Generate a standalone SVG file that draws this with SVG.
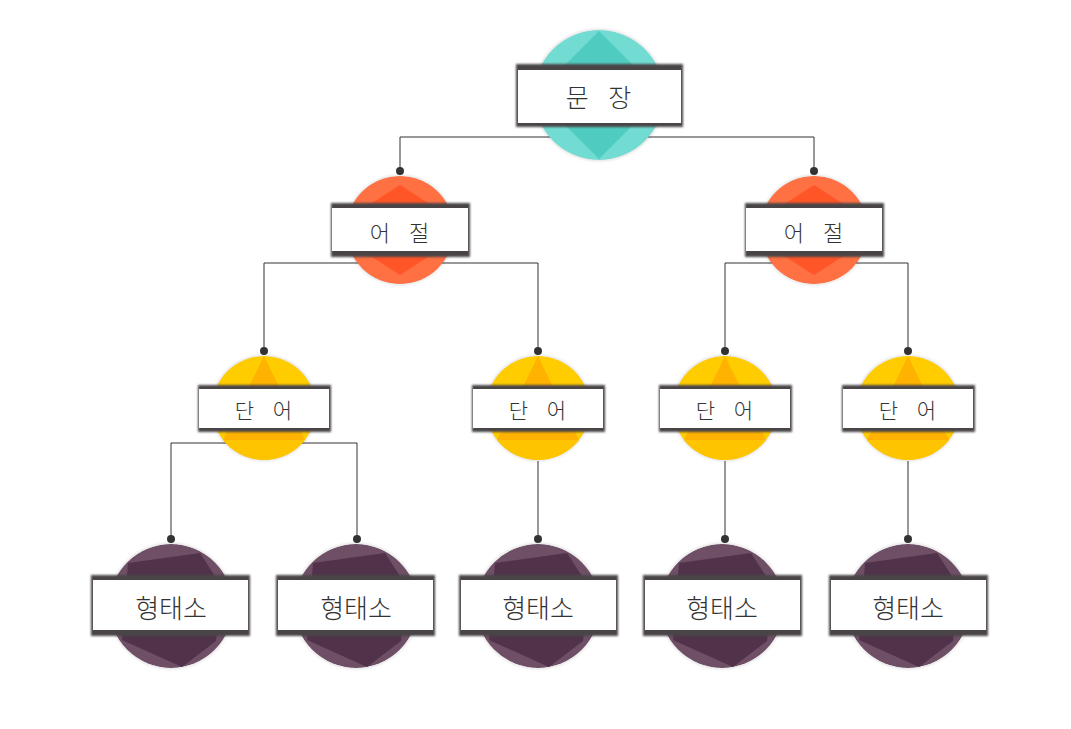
<svg xmlns="http://www.w3.org/2000/svg" width="1071" height="729" viewBox="0 0 1071 729">
<style>
.lbl{font-family:"Noto Sans CJK KR","Noto Sans",sans-serif;font-weight:300;fill:#333;text-anchor:middle;dominant-baseline:central}
.band{fill:#4a4447}
.box{fill:#fff}
.wire{stroke:#333;stroke-width:1;fill:none}
.dot{fill:#333}
</style>
<defs>
<clipPath id="cT" clipPathUnits="userSpaceOnUse"><circle r="65"/></clipPath>
<clipPath id="cO" clipPathUnits="userSpaceOnUse"><circle r="54"/></clipPath>
<clipPath id="cY" clipPathUnits="userSpaceOnUse"><circle r="52"/></clipPath>
<clipPath id="cP" clipPathUnits="userSpaceOnUse"><circle r="62"/></clipPath>
<filter id="sh" x="-20%" y="-20%" width="140%" height="140%"><feGaussianBlur stdDeviation="1.5"/></filter>
<filter id="bs" x="-5%" y="-20%" width="110%" height="140%"><feGaussianBlur stdDeviation="0.8"/></filter>
</defs>
<g id="connectors">
<path class="wire" d="M400 170V137H814V170"/>
<path class="wire" d="M264 351V263H538V351"/>
<path class="wire" d="M725 351V263H908V351"/>
<path class="wire" d="M171 539V443H357V539"/>
<path class="wire" d="M538 461V539M725 461V539M908 461V539"/>
<circle class="dot" cx="400" cy="171" r="4"/><circle class="dot" cx="814" cy="171" r="4"/>
<circle class="dot" cx="264" cy="351" r="4"/><circle class="dot" cx="538" cy="351" r="4"/>
<circle class="dot" cx="725" cy="351" r="4"/><circle class="dot" cx="908" cy="351" r="4"/>
<circle class="dot" cx="171" cy="539" r="4"/><circle class="dot" cx="357" cy="539" r="4"/>
<circle class="dot" cx="538" cy="539" r="4"/><circle class="dot" cx="725" cy="539" r="4"/>
<circle class="dot" cx="908" cy="539" r="4"/>
</g>
<g id="n-sentence" transform="translate(599,95)">
<circle r="66" fill="#000" opacity="0.12" filter="url(#sh)"/>
<g clip-path="url(#cT)">
<circle r="65" fill="#72dcd3"/>
<polygon points="0,-64 64,0 0,64 -64,0" fill="#4fcbbf"/>
</g>
<rect x="-83" y="-31" width="167" height="63" class="band" filter="url(#bs)"/>
<rect x="-81" y="-25" width="163" height="53" class="box"/>
<text class="lbl" x="3" y="1" font-size="25" letter-spacing="7">문 장</text>
</g>
<g id="n-eojeol-1" transform="translate(400,230)">
<circle r="55" fill="#000" opacity="0.12" filter="url(#sh)"/>
<g clip-path="url(#cO)">
<circle r="54" fill="#ff7043"/>
<polygon points="0,-45 70,0 0,45 -70,0" fill="#ff5527"/>
</g>
<rect x="-69" y="-27" width="139" height="54" class="band" filter="url(#bs)"/>
<rect x="-68" y="-22" width="136" height="43" class="box"/>
<text class="lbl" x="3" y="1" font-size="22" letter-spacing="7">어 절</text>
</g>
<g id="n-eojeol-2" transform="translate(814,230)">
<circle r="55" fill="#000" opacity="0.12" filter="url(#sh)"/>
<g clip-path="url(#cO)">
<circle r="54" fill="#ff7043"/>
<polygon points="0,-45 70,0 0,45 -70,0" fill="#ff5527"/>
</g>
<rect x="-69" y="-27" width="139" height="54" class="band" filter="url(#bs)"/>
<rect x="-68" y="-22" width="136" height="43" class="box"/>
<text class="lbl" x="3" y="1" font-size="22" letter-spacing="7">어 절</text>
</g>
<g id="n-word-1" transform="translate(264,408)">
<circle r="53" fill="#000" opacity="0.12" filter="url(#sh)"/>
<g clip-path="url(#cY)">
<circle r="52" fill="#ffcc00"/>
<polygon points="0,-52 41,32 -41,32" fill="#ffb300"/>
<polygon points="-41,32 41,32 52,52 -52,52" fill="#ffc400"/>
</g>
<rect x="-66" y="-23" width="133" height="47" class="band" filter="url(#bs)"/>
<rect x="-65" y="-19" width="130" height="39" class="box"/>
<text class="lbl" x="3" y="1" font-size="21" letter-spacing="7">단 어</text>
</g>
<g id="n-word-2" transform="translate(538,408)">
<circle r="53" fill="#000" opacity="0.12" filter="url(#sh)"/>
<g clip-path="url(#cY)">
<circle r="52" fill="#ffcc00"/>
<polygon points="0,-52 41,32 -41,32" fill="#ffb300"/>
<polygon points="-41,32 41,32 52,52 -52,52" fill="#ffc400"/>
</g>
<rect x="-66" y="-23" width="133" height="47" class="band" filter="url(#bs)"/>
<rect x="-65" y="-19" width="130" height="39" class="box"/>
<text class="lbl" x="3" y="1" font-size="21" letter-spacing="7">단 어</text>
</g>
<g id="n-word-3" transform="translate(725,408)">
<circle r="53" fill="#000" opacity="0.12" filter="url(#sh)"/>
<g clip-path="url(#cY)">
<circle r="52" fill="#ffcc00"/>
<polygon points="0,-52 41,32 -41,32" fill="#ffb300"/>
<polygon points="-41,32 41,32 52,52 -52,52" fill="#ffc400"/>
</g>
<rect x="-66" y="-23" width="133" height="47" class="band" filter="url(#bs)"/>
<rect x="-65" y="-19" width="130" height="39" class="box"/>
<text class="lbl" x="3" y="1" font-size="21" letter-spacing="7">단 어</text>
</g>
<g id="n-word-4" transform="translate(908,408)">
<circle r="53" fill="#000" opacity="0.12" filter="url(#sh)"/>
<g clip-path="url(#cY)">
<circle r="52" fill="#ffcc00"/>
<polygon points="0,-52 41,32 -41,32" fill="#ffb300"/>
<polygon points="-41,32 41,32 52,52 -52,52" fill="#ffc400"/>
</g>
<rect x="-66" y="-23" width="133" height="47" class="band" filter="url(#bs)"/>
<rect x="-65" y="-19" width="130" height="39" class="box"/>
<text class="lbl" x="3" y="1" font-size="21" letter-spacing="7">단 어</text>
</g>
<g id="n-morph-1" transform="translate(171,606)">
<circle r="63" fill="#000" opacity="0.12" filter="url(#sh)"/>
<g clip-path="url(#cP)">
<circle r="62" fill="#6e4f66"/>
<polygon points="-43,-43 29,-53 51,-19 45,35 11,61 -49,34" fill="#50334a"/>
</g>
<rect x="-80" y="-31" width="159" height="61" class="band" filter="url(#bs)"/>
<rect x="-78" y="-26" width="155" height="50" class="box"/>
<text class="lbl" x="0" y="0" font-size="26">형태소</text>
</g>
<g id="n-morph-2" transform="translate(356,606)">
<circle r="63" fill="#000" opacity="0.12" filter="url(#sh)"/>
<g clip-path="url(#cP)">
<circle r="62" fill="#6e4f66"/>
<polygon points="-43,-43 29,-53 51,-19 45,35 11,61 -49,34" fill="#50334a"/>
</g>
<rect x="-80" y="-31" width="159" height="61" class="band" filter="url(#bs)"/>
<rect x="-78" y="-26" width="155" height="50" class="box"/>
<text class="lbl" x="0" y="0" font-size="26">형태소</text>
</g>
<g id="n-morph-3" transform="translate(538,606)">
<circle r="63" fill="#000" opacity="0.12" filter="url(#sh)"/>
<g clip-path="url(#cP)">
<circle r="62" fill="#6e4f66"/>
<polygon points="-43,-43 29,-53 51,-19 45,35 11,61 -49,34" fill="#50334a"/>
</g>
<rect x="-79" y="-31" width="159" height="61" class="band" filter="url(#bs)"/>
<rect x="-77" y="-26" width="155" height="50" class="box"/>
<text class="lbl" x="0" y="0" font-size="26">형태소</text>
</g>
<g id="n-morph-4" transform="translate(722,606)">
<circle r="63" fill="#000" opacity="0.12" filter="url(#sh)"/>
<g clip-path="url(#cP)">
<circle r="62" fill="#6e4f66"/>
<polygon points="-43,-43 29,-53 51,-19 45,35 11,61 -49,34" fill="#50334a"/>
</g>
<rect x="-79" y="-31" width="159" height="61" class="band" filter="url(#bs)"/>
<rect x="-77" y="-26" width="155" height="50" class="box"/>
<text class="lbl" x="0" y="0" font-size="26">형태소</text>
</g>
<g id="n-morph-5" transform="translate(908,606)">
<circle r="63" fill="#000" opacity="0.12" filter="url(#sh)"/>
<g clip-path="url(#cP)">
<circle r="62" fill="#6e4f66"/>
<polygon points="-43,-43 29,-53 51,-19 45,35 11,61 -49,34" fill="#50334a"/>
</g>
<rect x="-79" y="-31" width="159" height="61" class="band" filter="url(#bs)"/>
<rect x="-77" y="-26" width="155" height="50" class="box"/>
<text class="lbl" x="0" y="0" font-size="26">형태소</text>
</g>
</svg>
